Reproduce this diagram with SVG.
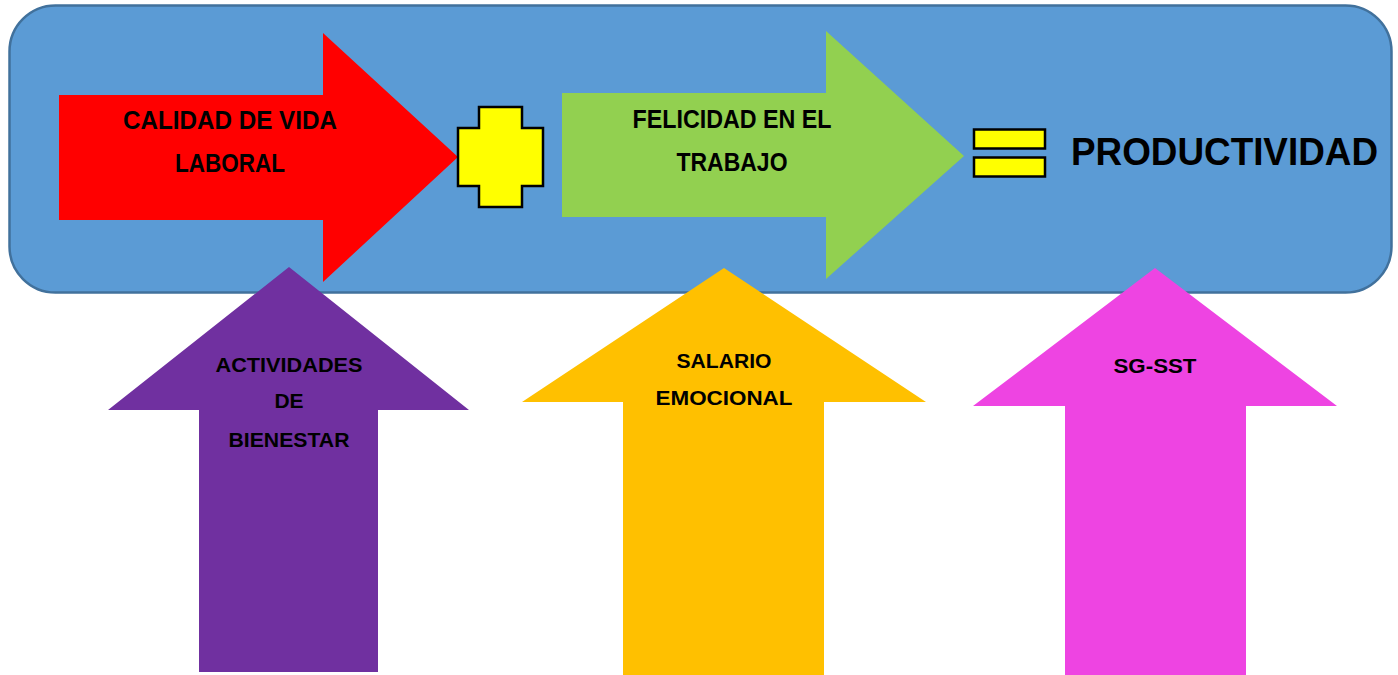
<svg xmlns="http://www.w3.org/2000/svg" width="1398" height="675" viewBox="0 0 1398 675">
<style>
.lbl{font-family:"Liberation Sans",Arial,sans-serif;font-weight:bold;fill:#000;text-anchor:middle}
.big{font-size:25px}
.mid{font-size:21px}
.sym{fill:#FFFF00;stroke:#000;stroke-width:2.5}
</style>
<rect width="1398" height="675" fill="#fff"/>
<g id="panel">
<rect x="9.5" y="5.5" width="1382" height="287" rx="46" ry="46" fill="#5B9BD5" stroke="#41719C" stroke-width="2.5"/>
</g>
<g id="calidad">
<polygon points="59,95 323,95 323,33 458,157 323,282 323,220 59,220" fill="#FF0000"/>
<text class="lbl big" x="230" y="129" textLength="214" lengthAdjust="spacingAndGlyphs">CALIDAD DE VIDA</text>
<text class="lbl big" x="230" y="172" textLength="110" lengthAdjust="spacingAndGlyphs">LABORAL</text>
</g>
<g id="plus">
<polygon class="sym" points="479,107 522,107 522,128 543,128 543,186 522,186 522,207 479,207 479,186 458,186 458,128 479,128"/>
</g>
<g id="felicidad">
<polygon points="562,93 826,93 826,31 964,156 826,279 826,217 562,217" fill="#92D050"/>
<text class="lbl big" x="732" y="128" textLength="199" lengthAdjust="spacingAndGlyphs">FELICIDAD EN EL</text>
<text class="lbl big" x="732" y="171" textLength="111" lengthAdjust="spacingAndGlyphs">TRABAJO</text>
</g>
<g id="equals">
<rect class="sym" x="974" y="129.5" width="71" height="19"/>
<rect class="sym" x="974" y="157.5" width="71" height="19"/>
</g>
<g id="productividad">
<text class="lbl" x="1224.5" y="165" font-size="38" textLength="307" lengthAdjust="spacingAndGlyphs">PRODUCTIVIDAD</text>
</g>
<g id="actividades">
<polygon points="289,267 469,410 378,410 378,672 199,672 199,410 108,410" fill="#7030A0"/>
<text class="lbl mid" x="289" y="372" textLength="147" lengthAdjust="spacingAndGlyphs">ACTIVIDADES</text>
<text class="lbl mid" x="289" y="408">DE</text>
<text class="lbl mid" x="289" y="447" textLength="121" lengthAdjust="spacingAndGlyphs">BIENESTAR</text>
</g>
<g id="salario">
<polygon points="724,268 926,402 824,402 824,675 623,675 623,402 522,402" fill="#FFC000"/>
<text class="lbl mid" x="724" y="368" textLength="95" lengthAdjust="spacingAndGlyphs">SALARIO</text>
<text class="lbl mid" x="724" y="405" textLength="137" lengthAdjust="spacingAndGlyphs">EMOCIONAL</text>
</g>
<g id="sgsst">
<polygon points="1155,268 1337,406 1246,406 1246,675 1065,675 1065,406 973,406" fill="#EE44E2"/>
<text class="lbl mid" x="1155" y="373" textLength="83" lengthAdjust="spacingAndGlyphs">SG-SST</text>
</g>
<g id="connectors"></g>
</svg>
